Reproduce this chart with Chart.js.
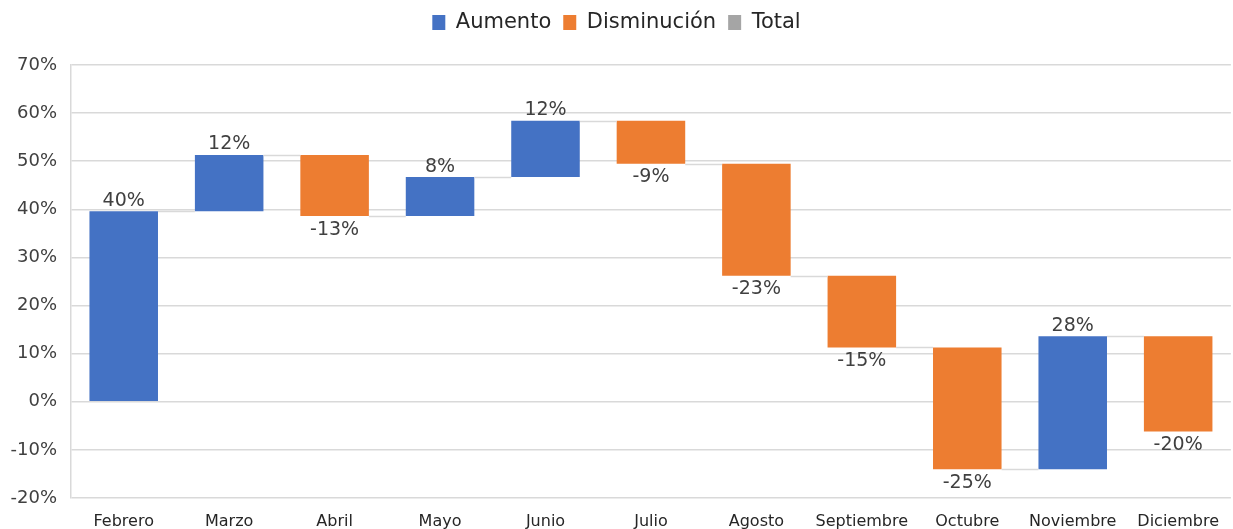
<!DOCTYPE html>
<html>
<head>
<meta charset="utf-8">
<script src="https://cdn.jsdelivr.net/npm/chart.js@4"></script>
<style>
  html, body { margin: 0; padding: 0; background: #fff; }
  #wrap { width: 1233px; height: 529px; }
</style>
</head>
<body>
<div id="wrap"><canvas id="cascada"></canvas></div>
<script>
// datos del gráfico de cascada
const meses = ['Febrero', 'Marzo', 'Abril', 'Mayo', 'Junio', 'Julio', 'Agosto', 'Septiembre', 'Octubre', 'Noviembre', 'Diciembre'];
const variaciones = [39.6, 11.7, -12.7, 8.1, 11.7, -8.9, -23.3, -14.9, -25.3, 27.6, -19.8];
const ticksY = [-20, -10, 0, 10, 20, 30, 40, 50, 60, 70];

const AZUL = '#4472C4';
const NARANJA = '#ED7D31';
const GRIS = '#A5A5A5';

// acumulados para las barras flotantes
const acumulado = [];
let suma = 0;
variaciones.forEach(v => { suma += v; acumulado.push(suma); });

const aumento = variaciones.map((v, i) => v >= 0 ? [acumulado[i] - v, acumulado[i]] : null);
const disminucion = variaciones.map((v, i) => v < 0 ? [acumulado[i] - v, acumulado[i]] : null);
const total = meses.map(() => null);

// espacio extra debajo de la leyenda
const leyendaAlta = {
  id: 'leyendaAlta',
  beforeInit(chart) {
    const fit = chart.legend.fit;
    chart.legend.fit = function () {
      fit.call(this);
      this.height += 22;
    };
  }
};

// conectores y etiquetas
const cascadaPlugin = {
  id: 'cascada',
  afterDatasetsDraw(chart) {
    const ctx = chart.ctx;
    const y = chart.scales.y;
    const barras = variaciones.map((v, i) => {
      const ds = v >= 0 ? 0 : 1;
      return chart.getDatasetMeta(ds).data[i];
    });

    ctx.save();
    ctx.strokeStyle = '#d9d9d9';
    ctx.lineWidth = 1.5;
    for (let i = 0; i < barras.length - 1; i++) {
      const a = barras[i], b = barras[i + 1];
      const py = Math.round(y.getPixelForValue(acumulado[i])) + 0.5;
      ctx.beginPath();
      ctx.moveTo(a.x + a.width / 2, py);
      ctx.lineTo(b.x - b.width / 2, py);
      ctx.stroke();
    }

    ctx.fillStyle = '#404040';
    ctx.font = '19px "DejaVu Sans"';
    ctx.textAlign = 'center';
    variaciones.forEach((v, i) => {
      const bar = barras[i];
      const py = y.getPixelForValue(acumulado[i]);
      const txt = Math.round(v) + '%';
      if (v >= 0) {
        ctx.textBaseline = 'bottom';
        ctx.fillText(txt, bar.x, py - 1);
      } else {
        ctx.textBaseline = 'top';
        ctx.fillText(txt, bar.x, py + 4);
      }
    });
    ctx.restore();
  }
};

new Chart(document.getElementById('cascada'), {
  type: 'bar',
  data: {
    labels: meses,
    datasets: [
      { label: 'Aumento', data: aumento, backgroundColor: AZUL, borderWidth: 0 },
      { label: 'Disminución', data: disminucion, backgroundColor: NARANJA, borderWidth: 0 },
      { label: 'Total', data: total, backgroundColor: GRIS, borderWidth: 0 }
    ]
  },
  options: {
    responsive: true,
    maintainAspectRatio: false,
    animation: false,
    layout: { padding: { top: 0, right: 0, bottom: 0, left: 0 } },
    datasets: { bar: { grouped: false, categoryPercentage: 1, barPercentage: 0.65 } },
    plugins: {
      legend: {
        position: 'top',
        labels: {
          boxWidth: 13, boxHeight: 15, padding: 12,
          color: '#262626',
          font: { family: '"DejaVu Sans"', size: 21 }
        }
      },
      tooltip: { enabled: false }
    },
    scales: {
      x: {
        afterFit(scale) { scale.height = 31; },
        grid: { display: false, drawTicks: false },
        border: { display: false },
        ticks: { color: '#262626', padding: 14, font: { family: '"DejaVu Sans"', size: 16 } }
      },
      y: {
        min: -20, max: 70,
        afterFit(scale) { scale.width = 71; },
        afterBuildTicks(scale) { scale.ticks = ticksY.map(v => ({ value: v })); },
        grid: { color: '#d9d9d9', lineWidth: 1.5, drawTicks: false },
        border: { display: true, color: '#d9d9d9', width: 1.5 },
        ticks: {
          color: '#404040', padding: 14,
          font: { family: '"DejaVu Sans"', size: 18 },
          callback: v => v + '%'
        }
      }
    }
  },
  plugins: [leyendaAlta, cascadaPlugin]
});
</script>
</body>
</html>
